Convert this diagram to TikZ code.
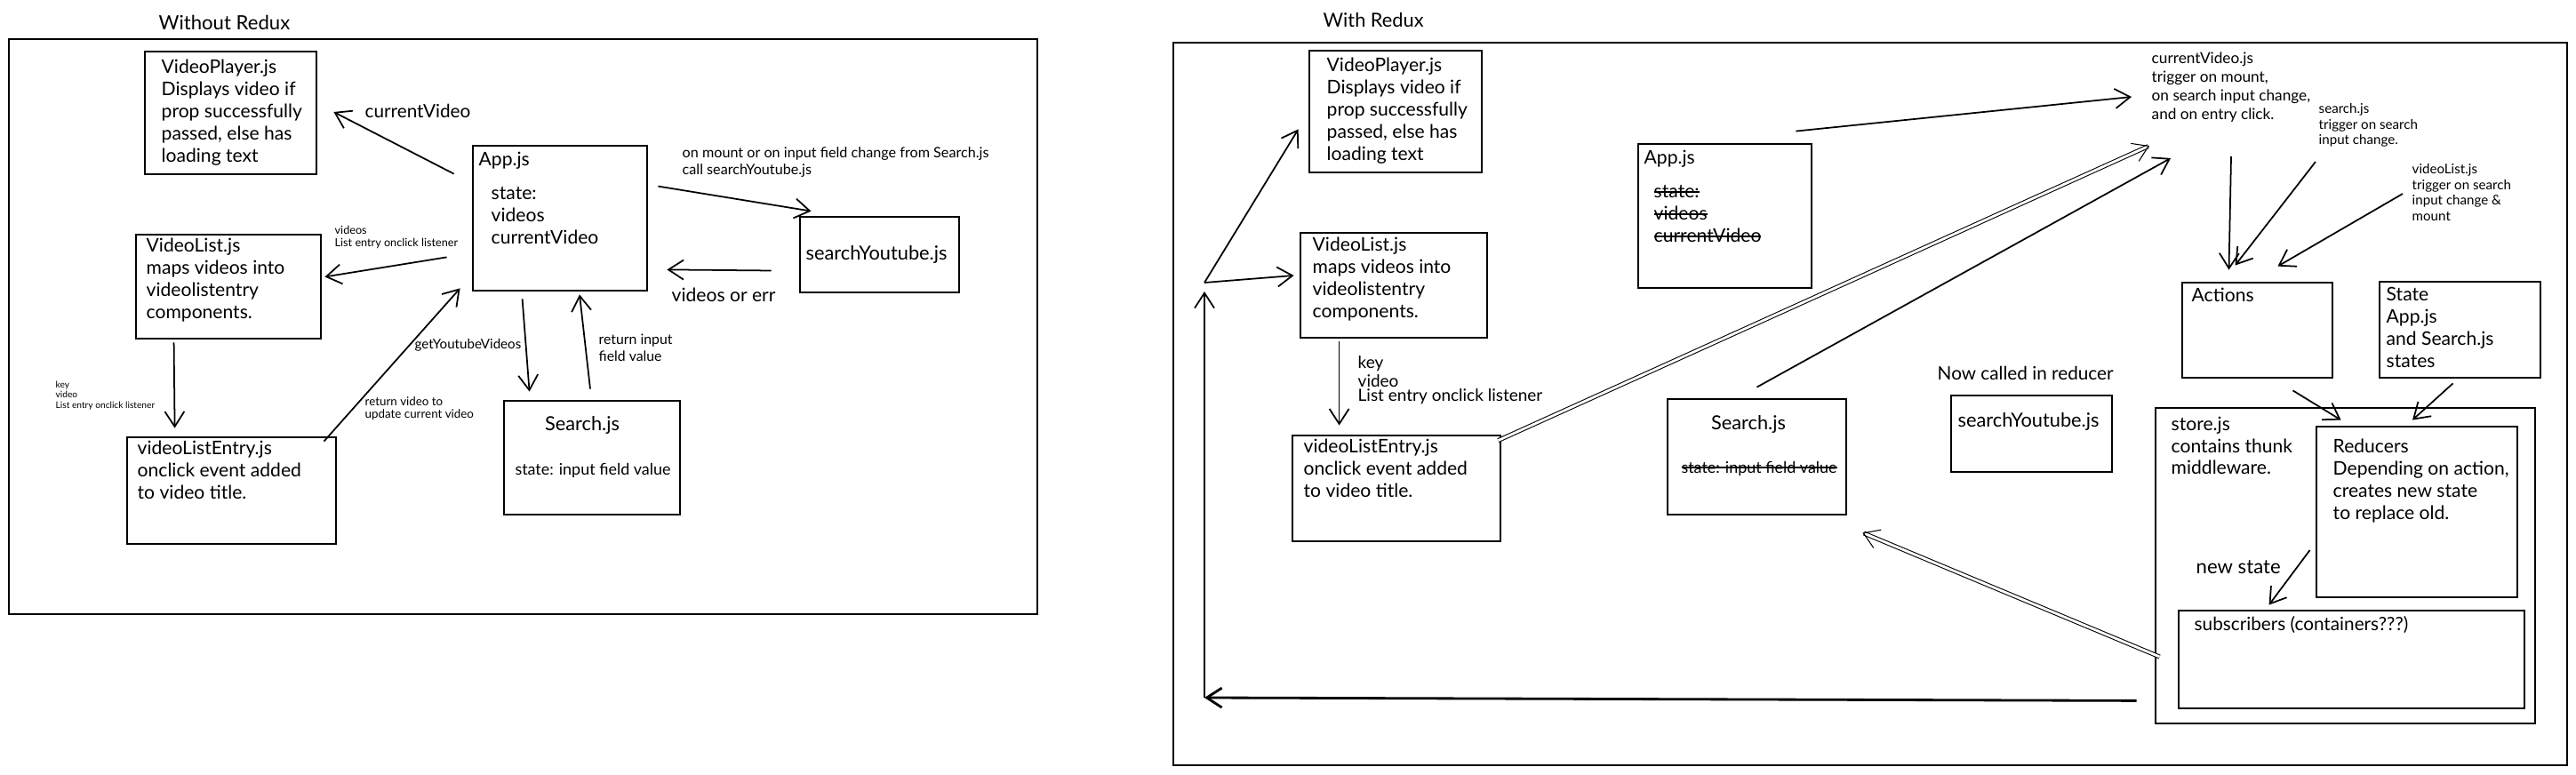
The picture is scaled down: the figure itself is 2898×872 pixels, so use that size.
\documentclass[tikz,border=0pt]{standalone}
\usepackage{fontspec}
\setmainfont{Lato}
\usetikzlibrary{arrows.meta, positioning, fit}
\newcommand\fs[2]{\fontsize{#1}{#2}\selectfont}
\newsavebox\strikebox
\newcommand\strike[1]{\sbox\strikebox{#1}\rlap{\usebox\strikebox}\rule[0.28em]{\wd\strikebox}{0.45pt}}
\tikzset{
  panel/.style={draw, line width=0.75pt, inner sep=0pt},
  box/.style={draw, line width=0.8pt, inner sep=0pt},
  txt/.style={anchor=north west, inner sep=0pt, align=left, font=\fs{6}{7.1}},
  lbl/.style={anchor=west, inner sep=0pt, font=\fs{5.9}{6.5}},
  note/.style={anchor=north west, inner sep=0pt, align=left},
  arr/.style={-{Straight Barb[length=1.7mm, width=2.2mm]}, line width=0.5pt},
  dblarr/.style={arr, double, double distance=0.8pt, line width=0.3pt},
}

\begin{document}
\begin{tikzpicture}[x=0.1mm, y=-0.1mm]
  \useasboundingbox (0,0) rectangle (2898,872);

  % Without Redux
  \node[lbl, font=\fs{6.3}{7}] (titleA) at (178,25) {Without Redux};
  \node[panel, fit={(10,44) (1167,691)}] (panelA) {};
  \node[box, fit={(163,58) (356,196)}] (vpA) {};
  \node[txt] (vpAtxt) at (181,66) {VideoPlayer.js\\Displays video if\\prop successfully\\passed, else has\\loading text};
  \node[box, fit={(532,164) (728,327)}] (appA) {};
  \node[txt] (appAtxt) at (538,170) {App.js};
  \node[txt] (appAstate) at (552,210) {state:\\videos\\currentVideo};
  \node[box, fit={(900,244) (1079,329)}] (syA) {};
  \node[lbl, font=\fs{6.2}{7}] (syAtxt) at (906,286) {searchYoutube.js};
  \node[box, fit={(153,264) (361,381)}] (vlA) {};
  \node[txt] (vlAtxt) at (164,267) {VideoList.js\\maps videos into\\videolistentry\\components.};
  \node[box, fit={(143,492) (378,612)}] (vleA) {};
  \node[txt] (vleAtxt) at (154,495) {videoListEntry.js\\onclick event added\\to video title.};
  \node[box, fit={(567,451) (765,579)}] (srA) {};
  \node[font=\fs{6.2}{7}, inner sep=0pt] (srAtxt) at (655,478) {Search.js};
  \node[font=\fs{5.1}{5.5}, inner sep=0pt] (srAstate) at (667,529) {state: input field value};

  \node[lbl] (cvA) at (410,125) {currentVideo};
  \node[note, font=\fs{4.6}{5.4}] (mountA) at (767,165) {on mount or on input field change from Search.js\\call searchYoutube.js};
  \node[lbl, font=\fs{6}{6.5}] (errA) at (755,332) {videos or err};
  \node[note, font=\fs{3.6}{4}] (propsA) at (376,253) {videos\\List entry onclick listener};
  \node[note, font=\fs{2.9}{3.3}] (keyA) at (62,428) {key\\video\\List entry onclick listener};
  \node[lbl, font=\fs{4.3}{5}] (getA) at (466,388) {getYoutubeVideos};
  \node[note, font=\fs{3.8}{4}] (retvA) at (410,446) {return video to\\update current video};
  \node[note, font=\fs{4.5}{5.4}] (retiA) at (673,375) {return input\\field value};

  \draw[arr] ([shift={(-20,33)}]appA.north west) -- ([shift={(18,-1)}]vpA.east);
  \draw[arr] ([shift={(11,47)}]appA.north east) -- ([shift={(14,-5)}]syA.north west);
  \draw[arr] ([shift={(-31,18)}]syA.west) -- ([shift={(21,-25)}]appA.south east);
  \draw[arr] ([shift={(-28,-39)}]appA.south west) -- ([shift={(3,-11)}]vlA.east);
  \draw[arr] ([shift={(44,3)}]vlA.south west) -- ([shift={(55,-9)}]vleA.north west);
  \draw[arr] ([shift={(-15,6)}]vleA.north east) -- ([shift={(-13,-4)}]appA.south west);
  \draw[arr] ([shift={(57,8)}]appA.south west) -- ([shift={(30,-9)}]srA.north west);
  \draw[arr] ([shift={(-2,-12)}]srA.north) -- ([shift={(22,3)}]appA.south);

  % With Redux
  \node[lbl, font=\fs{6.2}{7}] (titleB) at (1488,23) {With Redux};
  \node[panel, fit={(1320,48) (2888,861)}] (panelB) {};
  \node[box, fit={(1473,57) (1667,194)}] (vpB) {};
  \node[txt] (vpBtxt) at (1492,64) {VideoPlayer.js\\Displays video if\\prop successfully\\passed, else has\\loading text};
  \node[box, fit={(1463,262) (1673,380)}] (vlB) {};
  \node[txt] (vlBtxt) at (1476,266) {VideoList.js\\maps videos into\\videolistentry\\components.};
  \node[box, fit={(1843,162) (2038,324)}] (appB) {};
  \node[txt] (appBtxt) at (1849,168) {App.js};
  \node[txt] (appBstate) at (1860,208) {\strike{state:}\\\strike{videos}\\\strike{currentVideo}};
  \node[box, fit={(1876,449) (2077,579)}] (srB) {};
  \node[font=\fs{6.2}{7}, inner sep=0pt] (srBtxt) at (1967,477) {Search.js};
  \node[font=\fs{5.1}{5.5}, inner sep=0pt] (srBstate) at (1979,527) {\strike{state: input field value}};
  \node[box, fit={(2195,445) (2376,531)}] (syB) {};
  \node[lbl, font=\fs{6.2}{7}] (syBtxt) at (2202,474) {searchYoutube.js};
  \node[box, fit={(1454,490) (1688,609)}] (vleB) {};
  \node[txt] (vleBtxt) at (1466,493) {videoListEntry.js\\onclick event added\\to video title.};
  \node[note, font=\fs{5.4}{4.7}] (keyB) at (1527,400) {key\\video\\List entry onclick listener};
  \node[note, font=\fs{4.9}{6}] (cvB) at (2420,58) {currentVideo.js\\trigger on mount,\\on search input change,\\and on entry click.};
  \node[note, font=\fs{4.3}{5}] (sjB) at (2608,116) {search.js\\trigger on search\\input change.};
  \node[note, font=\fs{4.3}{5}] (vltB) at (2713,184) {videoList.js\\trigger on search\\input change \&\\mount};
  \node[box, fit={(2455,318) (2624,425)}] (actB) {};
  \node[txt] (actBtxt) at (2465,323) {Actions};
  \node[box, fit={(2677,317) (2858,425)}] (stB) {};
  \node[txt] (stBtxt) at (2684,323) {State\\App.js\\and Search.js\\states};
  \node[lbl] (nowB) at (2179,420) {Now called in reducer};
  \node[box, fit={(2425,459) (2852,814)}] (storeB) {};
  \node[txt] (storeBtxt) at (2442,468) {store.js\\contains thunk\\middleware.};
  \node[box, fit={(2606,480) (2832,672)}] (redB) {};
  \node[txt] (redBtxt) at (2624,493) {Reducers\\Depending on action,\\creates new state\\to replace old.};
  \node[lbl, font=\fs{6.3}{7}] (newB) at (2470,638) {new state};
  \node[box, fit={(2451,687) (2840,797)}] (subB) {};
  \node[lbl] (subBtxt) at (2468,703) {subscribers (containers???)};

  \coordinate (hub) at (1355,318);
  \coordinate (corner) at (1355,785);

  \draw[arr, line width=0.8pt] ([shift={(-20,-27)}]storeB.south west) -- (corner);
  \draw[arr] (corner) -- ([shift={(0,10)}]hub);
  \draw[arr] (hub) -- ([shift={(-11,-50)}]vpB.south west);
  \draw[arr] (hub) -- ([shift={(-6,-11)}]vlB.west);
  \draw[arr] ([shift={(45,3)}]vlB.south west) -- ([shift={(54,-10)}]vleB.north west);
  \draw[arr] ([shift={(-19,-13)}]appB.north east) -- ([shift={(-22,51)}]cvB.north west);
  \draw[dblarr] ([shift={(-4,7)}]vleB.north east) -- ([shift={(-2,106)}]cvB.north west);
  \draw[arr] ([shift={(0,-12)}]srB.north) -- ([shift={(22,120)}]cvB.north west);
  \draw[arr] ([shift={(90,118)}]cvB.north west) -- ([shift={(-32,-13)}]actB.north);
  \draw[arr] ([shift={(-3,66)}]sjB.north west) -- ([shift={(-25,-18)}]actB.north);
  \draw[arr] ([shift={(-10,34)}]vltB.north west) -- ([shift={(23,-17)}]actB.north);
  \draw[arr] ([shift={(40,13)}]actB.south) -- ([shift={(29,-6)}]redB.north west);
  \draw[arr] ([shift={(-8,5)}]stB.south) -- ([shift={(-5,-6)}]redB.north);
  \draw[arr] ([shift={(-6,43)}]redB.west) -- ([shift={(103,-5)}]subB.north west);
  \draw[dblarr] ([shift={(-20,-3)}]subB.west) -- ([shift={(17,19)}]srB.south east);
\end{tikzpicture}
\end{document}
